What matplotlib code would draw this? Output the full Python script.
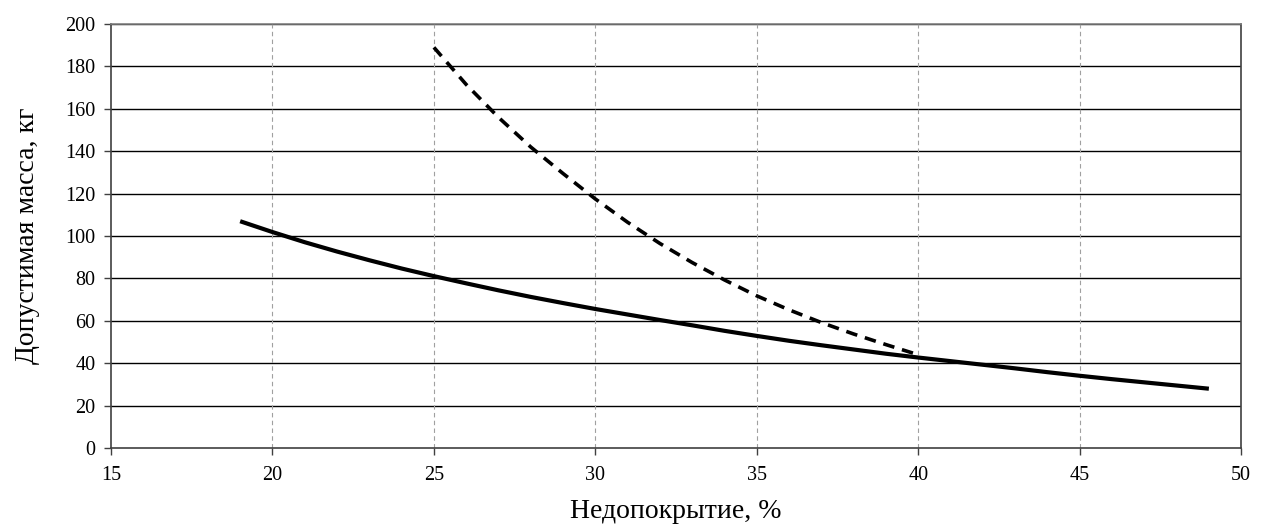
import numpy as np
import matplotlib
matplotlib.use('Agg')
import matplotlib.pyplot as plt

plt.rcParams['font.family'] = ['Liberation Serif', 'DejaVu Serif']

# Solid curve
x_solid = [19, 20, 21, 22, 23, 24, 25, 26, 27, 28, 29, 30, 31, 32, 33, 34,
           35, 36, 37, 38, 39, 40, 41, 42, 43, 44, 45, 46, 47, 48, 49]
y_solid = [107, 101.9, 97.1, 92.7, 88.6, 84.7, 81.1, 77.7, 74.4, 71.3, 68.4,
           65.6, 63, 60.4, 57.9, 55.3, 52.9, 50.6, 48.5, 46.5, 44.5, 42.7,
           41, 39.3, 37.6, 35.8, 34.1, 32.5, 31, 29.5, 28]

# Dashed curve
x_dash = [25, 26, 27, 28, 29, 30, 31, 32, 33, 34, 35, 36, 37, 38, 39, 40]
y_dash = [189, 171.5, 156, 142, 129.5, 117.5, 106.5, 96.5, 87.5, 79.3, 71.8,
          65.2, 59.2, 53.8, 48.8, 44]

x_ticks = [15, 20, 25, 30, 35, 40, 45, 50]
y_ticks = [0, 20, 40, 60, 80, 100, 120, 140, 160, 180, 200]

fig = plt.figure(figsize=(12.67, 5.29), dpi=100)
ax = fig.add_axes([0.0876, 0.153, 0.892, 0.8015])

ax.plot(x_solid, y_solid, color='black', lw=3.0, solid_capstyle='butt')
ax.plot(x_dash, y_dash, color='black', lw=2.6, ls=(0, (3.2, 2.2)))

ax.set_xlim(15, 50)
ax.set_ylim(0, 200)
ax.set_xticks(x_ticks)
ax.set_yticks(y_ticks)

# grid: solid horizontal, dashed light vertical
for v in y_ticks[1:]:
    ax.axhline(v, color='black', lw=1.0, zorder=0)
for v in x_ticks[1:-1]:
    ax.axvline(v, color='#a0a0a0', lw=0.8, ls=(0, (4, 3)), zorder=0)

for s in ['left', 'bottom', 'right']:
    ax.spines[s].set_color('#404040')
    ax.spines[s].set_linewidth(1.2)
ax.spines['top'].set_color('#808080')
ax.spines['top'].set_linewidth(1.2)

ax.tick_params(direction='out', length=5, width=1, colors='#404040',
               labelcolor='black', labelsize=14.5)
ax.tick_params(axis='x', pad=8)
ax.tick_params(axis='y', pad=6)

ax.set_xlabel('Недопокрытие, %', fontsize=20, labelpad=10)
ax.set_ylabel('Допустимая масса, кг', fontsize=20, labelpad=18)

plt.savefig('out.png', dpi=100)
